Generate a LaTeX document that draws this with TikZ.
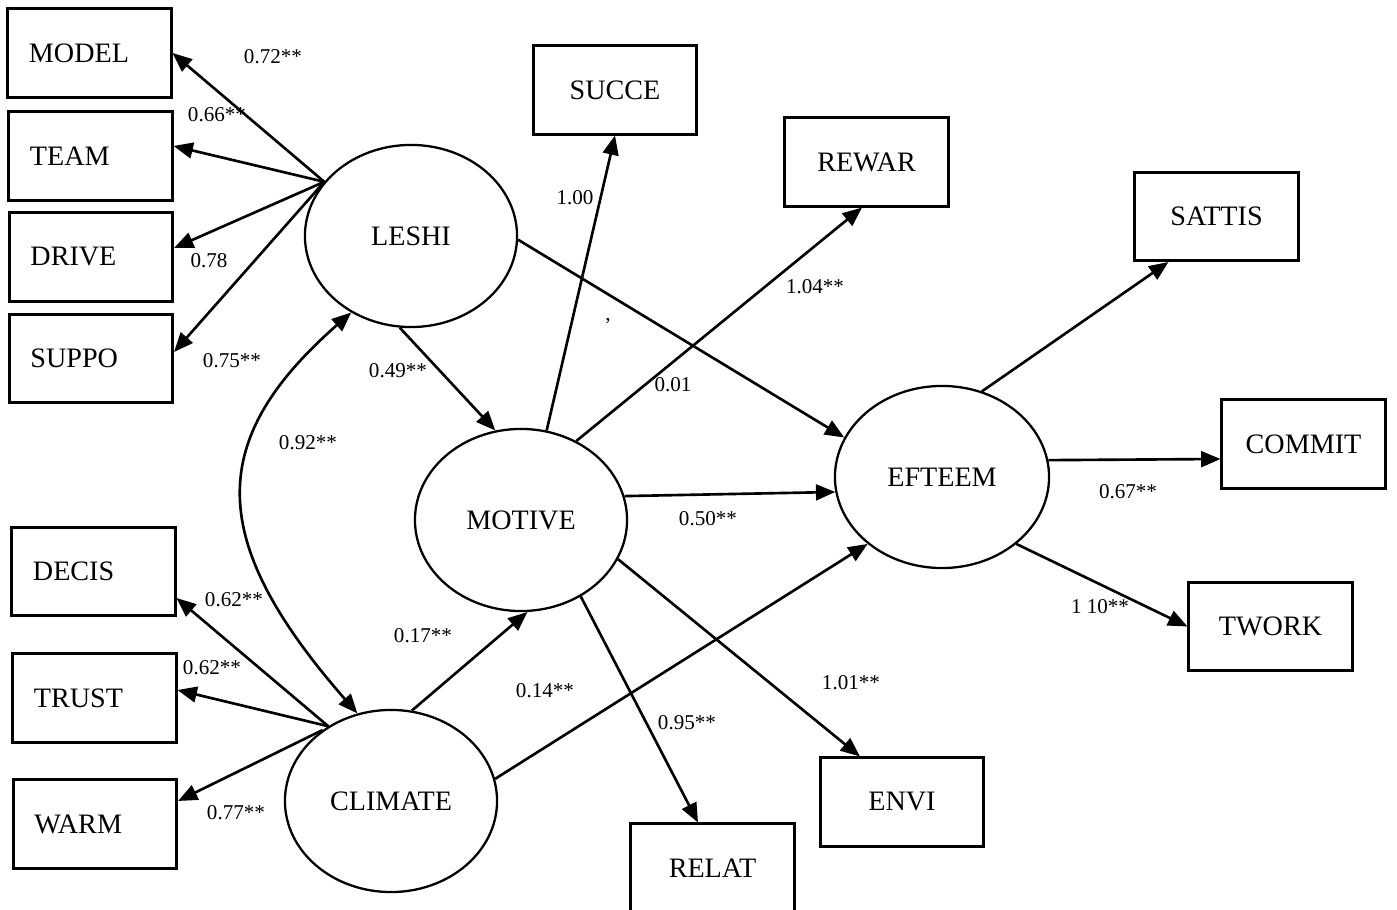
\documentclass[tikz,border=0pt]{standalone}
\usepackage{fontspec}
\setmainfont{Liberation Serif}
\usetikzlibrary{shapes.geometric,arrows.meta}

\tikzset{
  box/.style={draw, line width=0.85pt, minimum width=1.63cm, minimum height=0.88cm,
              inner sep=0pt, font=\fontsize{8}{9}\selectfont},
  lbox/.style={box, text width=1.21cm, align=left, inner xsep=0.21cm},
  latent/.style={draw, ellipse, line width=0.65pt, minimum width=2.12cm,
                 minimum height=1.82cm, inner sep=0pt, font=\fontsize{8}{9}\selectfont},
  tip/.tip={Triangle[length=5.5pt,width=4.5pt]},
  effect/.style={-tip, line width=0.75pt},
  covar/.style={tip-tip, line width=0.75pt},
  coef/.style={inner sep=0pt, font=\fontsize{6}{7}\selectfont},
}

\begin{document}
\begin{tikzpicture}[x=0.01cm, y=-0.01cm]
\useasboundingbox (0,0) rectangle (1397,910);
\clip (0,0) rectangle (1397,910);

% indicators of LESHI
\node[lbox] (model) at (89.5,53)  {MODEL};
\node[lbox] (team)  at (90.5,156) {TEAM};
\node[lbox] (drive) at (91,257)   {DRIVE};
\node[lbox] (suppo) at (91,358.5) {SUPPO};

% indicators of CLIMATE
\node[lbox] (decis) at (93.5,571.5) {DECIS};
\node[lbox] (trust) at (94.5,698)   {TRUST};
\node[lbox] (warm)  at (95,824)     {WARM};

% indicators of MOTIVE
\node[box] (succe) at (615,90)    {SUCCE};
\node[box] (rewar) at (866.5,162) {REWAR};
\node[box] (envi)  at (902,802)   {ENVI};
\node[box] (relat) at (712.5,868) {RELAT};

% indicators of EFTEEM
\node[box] (sattis) at (1216.5,216.5) {SATTIS};
\node[box] (commit) at (1303.5,444)   {COMMIT};
\node[box] (twork)  at (1270.5,626.5) {TWORK};

% latent variables
\node[latent] (leshi)   at (411,236) {LESHI};
\node[latent] (motive)  at (521,520) {MOTIVE};
\node[latent] (climate) at (391,801) {CLIMATE};
\node[latent, minimum width=2.14cm] (efteem) at (942,477) {EFTEEM};

% loadings of LESHI
\draw[effect] (leshi.148) -- (model.east);
\draw[effect] (leshi.148) -- ([yshift=0.10cm]team.east);
\draw[effect] (leshi.148) -- ([yshift=0.09cm]drive.east);
\draw[effect] (leshi.148) -- ([yshift=0.065cm]suppo.east);

% loadings of CLIMATE
\draw[effect] (climate.130) -- ([yshift=-0.265cm]decis.east);
\draw[effect] (climate.130) -- ([yshift=0.08cm]trust.east);
\draw[effect] (climate.134) -- ([yshift=0.23cm]warm.east);

% correlation between the exogenous factors
\draw[covar] (leshi.232.5) .. controls (206,440) and (206,540) .. (climate.111);

% structural paths
\draw[effect] (leshi.263)    -- (motive.106);
\draw[effect] (leshi.358)    -- (efteem.158.5);
\draw[effect] (climate.77.5) -- (motive.-86);
\draw[effect] (climate.12)   -- (efteem.222);
\draw[effect] (motive.13)    -- (efteem.188);

% loadings of MOTIVE
\draw[effect] (motive.74.4)  -- (succe.south);
\draw[effect] (motive.55.5)  -- ([xshift=-0.045cm]rewar.south);
\draw[effect] (motive.-22)   -- ([xshift=-0.42cm]envi.north);
\draw[effect] (motive.-52.4) -- ([xshift=-0.145cm]relat.north);

% loadings of EFTEEM
\draw[effect] (efteem.65)   -- ([xshift=-0.48cm]sattis.south);
\draw[effect] (efteem.9)    -- ([yshift=-0.15cm]commit.west);
\draw[effect] (efteem.-42.5) -- (twork.west);

% coefficients
\node[coef] (k1)  at (273,57)  {0.72**};
\node[coef] (k2)  at (217,115) {0.66**};
\node[coef] (k3)  at (209,261) {0.78};
\node[coef] (k4)  at (232,361) {0.75**};
\node[coef] (k5)  at (308,443) {0.92**};
\node[coef] (k6)  at (398,371) {0.49**};
\node[coef] (k7)  at (575,198) {1.00};
\node[coef] (k8)  at (815,287) {1.04**};
\node[coef] (k9)  at (673,385) {0.01};
\node[coef] (k10) at (708,519) {0.50**};
\node[coef] (k11) at (423,636) {0.17**};
\node[coef] (k12) at (545,691) {0.14**};
\node[coef] (k13) at (687,723) {0.95**};
\node[coef] (k14) at (851,683) {1.01**};
\node[coef] (k15) at (234,600) {0.62**};
\node[coef] (k16) at (212,668) {0.62**};
\node[coef] (k17) at (236,813) {0.77**};
\node[coef] (k18) at (1128,492) {0.67**};
\node[coef] (k19) at (1100,607) {1 10**};
\node[coef] (k20) at (608,321) {,};
\end{tikzpicture}
\end{document}
